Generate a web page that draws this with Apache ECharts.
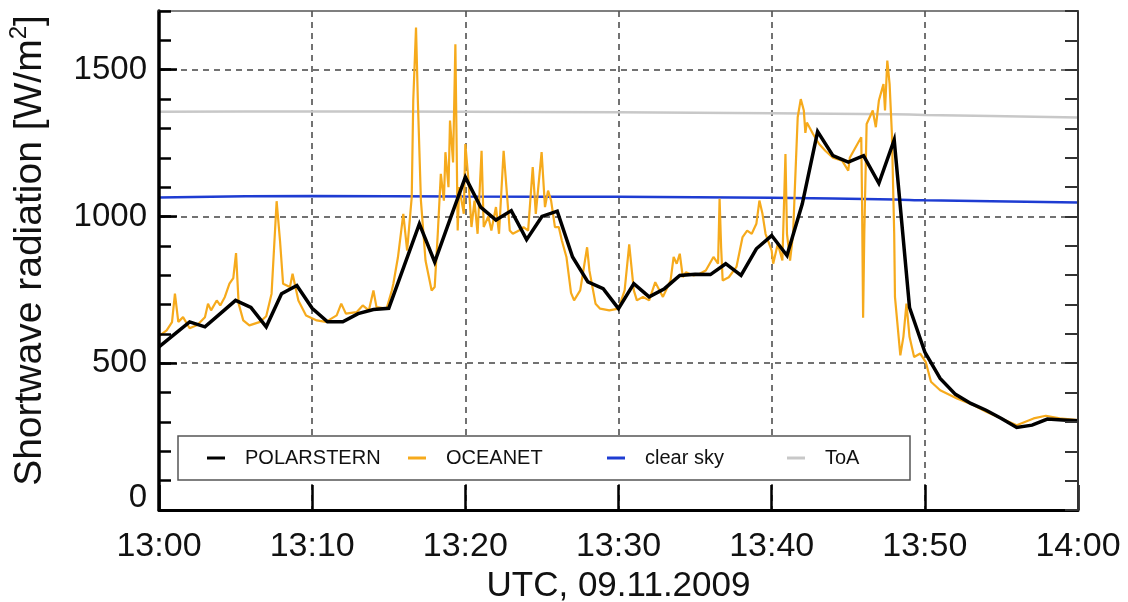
<!DOCTYPE html>
<html>
<head>
<meta charset="utf-8">
<script src="https://cdn.jsdelivr.net/npm/echarts@6/dist/echarts.min.js"></script>
<style>
  html, body { margin: 0; padding: 0; background: #fff; }
  #chart { width: 1128px; height: 602px; }
</style>
</head>
<body>
<div id="chart"></div>
<script>
// Minutes after 13:00 UTC on 09.11.2009
const xTicks = [0, 10, 20, 30, 40, 50, 60];
const yTicks = [0, 500, 1000, 1500];

// POLARSTERN: one-minute shortwave radiation (W/m2)
const polarsternMin = [0,1,2,3,4,5,6,7,8,9,10,11,12,13,14,15,16,17,18,19,20,21,22,23,24,25,26,27,28,29,30,
  31,32,33,34,35,36,37,38,39,40,41,42,43,44,45,46,47,48,49,50,51,52,53,54,55,56,57,58,59,60];
const polarsternVal = [556,598,641,624,669,714,690,624,737,765,687,641,641,669,683,687,831,975,845,990,1134,
  1032,988,1020,921,1000,1018,862,777,754,686,771,726,754,799,803,802,839,799,890,935,
  867,1043,1289,1207,1185,1207,1113,1261,690,538,448,394,363,340,312,281,289,310,307,304];

// OCEANET: high-resolution shortwave radiation (minute, W/m2)
const oceanetMin = [0,0.5,0.85,1.04,1.26,1.57,2.0,2.5,3.0,3.2,3.4,3.77,4.0,4.3,4.6,4.85,5.03,5.2,5.5,5.9,6.6,7.0,7.35,7.68,7.9,
  8.1,8.55,8.72,9.1,9.6,10.3,10.9,11.6,11.9,12.2,12.9,13.3,13.7,14.0,14.2,14.86,15.2,15.3,15.6,15.95,16.2,16.5,16.6,16.78,16.9,
  17.1,17.4,17.8,18.0,18.2,18.4,18.6,18.7,18.9,19.0,19.2,19.35,19.5,19.6,19.9,20.0,20.2,20.4,20.6,20.8,21.06,21.2,21.5,21.7,22.0,
  22.2,22.5,22.9,23.1,23.5,23.8,24.1,24.4,24.6,24.98,25.2,25.4,25.6,25.85,26.1,26.3,26.6,26.9,27.1,27.5,27.95,28.1,28.5,28.8,29.4,
  30.0,30.4,30.7,31.0,31.2,31.6,32.0,32.4,32.9,33.4,33.6,33.8,34.0,34.2,34.4,34.9,35.3,35.7,36.2,36.5,36.6,36.7,36.8,37.2,37.7,
  38.1,38.4,38.7,39.0,39.2,39.4,39.6,40.0,40.1,40.4,40.7,40.9,41.0,41.2,41.4,41.5,41.7,41.9,42.1,42.2,42.3,42.7,43.1,43.5,44.0,
  44.6,45.0,45.1,45.6,45.85,45.9,45.97,46.05,46.2,46.6,46.8,47.0,47.3,47.4,47.55,47.7,47.85,48.0,48.05,48.4,48.6,48.8,49.0,49.3,
  49.7,50.06,50.4,51.0,52.1,53.2,54.0,55.0,56.0,57.1,57.9,58.8,60];
const oceanetVal = [592,612,640,737,641,657,619,630,657,703,680,714,697,726,771,790,875,703,646,629,641,660,737,1052,918,
  771,760,805,714,663,646,641,663,703,669,674,697,680,748,691,686,748,771,861,1009,884,1066,1395,1644,1395,
  1054,850,748,760,941,1145,1054,1219,1100,1327,1184,1587,952,1100,1009,1247,1126,964,1054,941,1224,964,1000,952,1032,
  941,1224,952,941,952,964,952,1168,1009,1219,1032,1088,1054,964,964,918,862,740,714,748,895,816,703,686,680,
  686,748,905,748,714,726,714,776,726,782,862,839,873,793,810,799,805,816,862,839,1060,895,782,793,828,
  930,952,941,975,1054,1009,941,884,839,907,850,1213,941,850,941,1077,1338,1400,1361,1285,1320,1281,1247,1224,1200,
  1190,1156,1200,1247,1270,1054,655,950,1315,1361,1304,1395,1451,1361,1531,1451,1281,941,726,527,590,703,590,521,
  533,504,437,408,380,357,335,312,289,312,321,312,306];

// Modelled clear-sky and top-of-atmosphere irradiance
const modelMin = [0, 10, 20, 30, 40, 48, 50, 60];
const clearSkyVal = [1065, 1070, 1068, 1067, 1064, 1058, 1055, 1048];
const toaVal = [1357, 1358, 1357, 1355, 1352, 1348, 1346, 1337];

const seriesNames = ['POLARSTERN', 'OCEANET', 'clear sky', 'ToA'];
const seriesColors = ['#000000', '#f6aa1c', '#1e3cd2', '#c8c8c8'];

const FONT = '"Liberation Sans", Arial, Helvetica, sans-serif';
const pairs = (xs, ys) => xs.map((x, i) => [x, ys[i]]);
const fmtTime = v => (13 + Math.floor(v / 60)) + ':' + String(v % 60).padStart(2, '0');
// the zero label sits a little above the corner, clear of the time axis
const fmtRadiation = v => (v === 0 ? '{zero|0}' : (yTicks.indexOf(v) >= 0 ? String(v) : ''));

const chart = echarts.init(document.getElementById('chart'), null, { renderer: 'canvas' });

const legendX = [207, 408, 607, 787];
const legends = seriesNames.map((name, i) => ({
  data: [name],
  left: legendX[i],
  top: 446,
  padding: 0,
  icon: 'rect',
  itemWidth: 18,
  itemHeight: 3,
  selectedMode: false,
  z: 6,
  textStyle: { fontFamily: FONT, fontSize: 20, color: '#111', padding: [0, 0, 0, 15], lineHeight: 24 }
}));

const gridLine = { show: true, lineStyle: { color: '#444', width: 1.5, type: [6, 5] } };

chart.setOption({
  animation: false,
  backgroundColor: '#fff',
  grid: { left: 159, right: 50, top: 11, bottom: 92, containLabel: false, outerBoundsMode: 'none' },
  legend: legends,
  graphic: [{
    type: 'rect',
    shape: { x: 178, y: 436, width: 732, height: 44 },
    style: { fill: '#fff', stroke: '#555', lineWidth: 1.5 },
    z: 4
  }],
  xAxis: [{
    type: 'value', min: 0, max: 60, interval: 10, position: 'bottom',
    axisLine: { show: true, onZero: false, lineStyle: { color: '#000', width: 3 } },
    axisTick: { show: true, inside: true, length: 25, lineStyle: { color: '#000', width: 2.5 } },
    axisLabel: { formatter: fmtTime, fontFamily: FONT, fontSize: 34, color: '#111', margin: 20 },
    splitLine: gridLine,
    name: 'UTC, 09.11.2009', nameLocation: 'middle', nameGap: 56,
    nameTextStyle: { fontFamily: FONT, fontSize: 35, color: '#111' },
    z: 1
  }, {
    type: 'value', min: 0, max: 60, position: 'top',
    axisLine: { show: true, onZero: false, lineStyle: { color: '#555', width: 1.5 } },
    axisTick: { show: false }, axisLabel: { show: false }, splitLine: { show: false },
    z: 3
  }],
  yAxis: [{
    type: 'value', min: 0, max: 1700, interval: 100, position: 'left',
    axisLine: { show: true, onZero: false, lineStyle: { color: '#000', width: 3.5 } },
    axisTick: { show: true, inside: true, length: 12, lineStyle: { color: '#000', width: 2.5 } },
    axisLabel: {
      formatter: fmtRadiation,
      fontFamily: FONT, fontSize: 33, color: '#111', margin: 12,
      rich: { zero: { fontFamily: FONT, fontSize: 33, color: '#111', padding: [0, 0, 24, 0] } }
    },
    splitLine: { show: false },
    name: 'Shortwave radiation [W/m{sup|2}]',
    nameLocation: 'middle', nameGap: 106, nameRotate: 90,
    nameTextStyle: {
      fontFamily: FONT, fontSize: 39, color: '#111', lineHeight: 46, padding: [0, 0, 0, 20],
      rich: { sup: { fontFamily: FONT, fontSize: 24, color: '#111', verticalAlign: 'top', lineHeight: 26 } }
    },
    z: 3
  }, {
    type: 'value', min: 0, max: 1700, interval: 500, position: 'left',
    axisLine: { show: false },
    axisTick: { show: true, inside: true, length: 18, customValues: yTicks, lineStyle: { color: '#000', width: 2.5 } },
    axisLabel: { show: false },
    splitLine: gridLine,
    z: 1
  }, {
    type: 'value', min: 0, max: 1700, interval: 100, position: 'right',
    axisLine: { show: true, onZero: false, lineStyle: { color: '#333', width: 2 } },
    axisTick: { show: true, inside: true, length: 13, lineStyle: { color: '#333', width: 2 } },
    axisLabel: { show: false }, splitLine: { show: false },
    z: 3
  }],
  series: [{
    name: 'ToA', type: 'line', data: pairs(modelMin, toaVal), smooth: 0.3,
    showSymbol: false, color: seriesColors[3], lineStyle: { width: 2.5 }, z: 2
  }, {
    name: 'clear sky', type: 'line', data: pairs(modelMin, clearSkyVal), smooth: 0.3,
    showSymbol: false, color: seriesColors[2], lineStyle: { width: 2.5 }, z: 2
  }, {
    name: 'OCEANET', type: 'line', data: pairs(oceanetMin, oceanetVal),
    showSymbol: false, color: seriesColors[1], lineStyle: { width: 2.2 }, z: 2
  }, {
    name: 'POLARSTERN', type: 'line', data: pairs(polarsternMin, polarsternVal),
    showSymbol: false, color: seriesColors[0], lineStyle: { width: 3.5, join: 'miter' }, z: 2
  }]
});
</script>
</body>
</html>
